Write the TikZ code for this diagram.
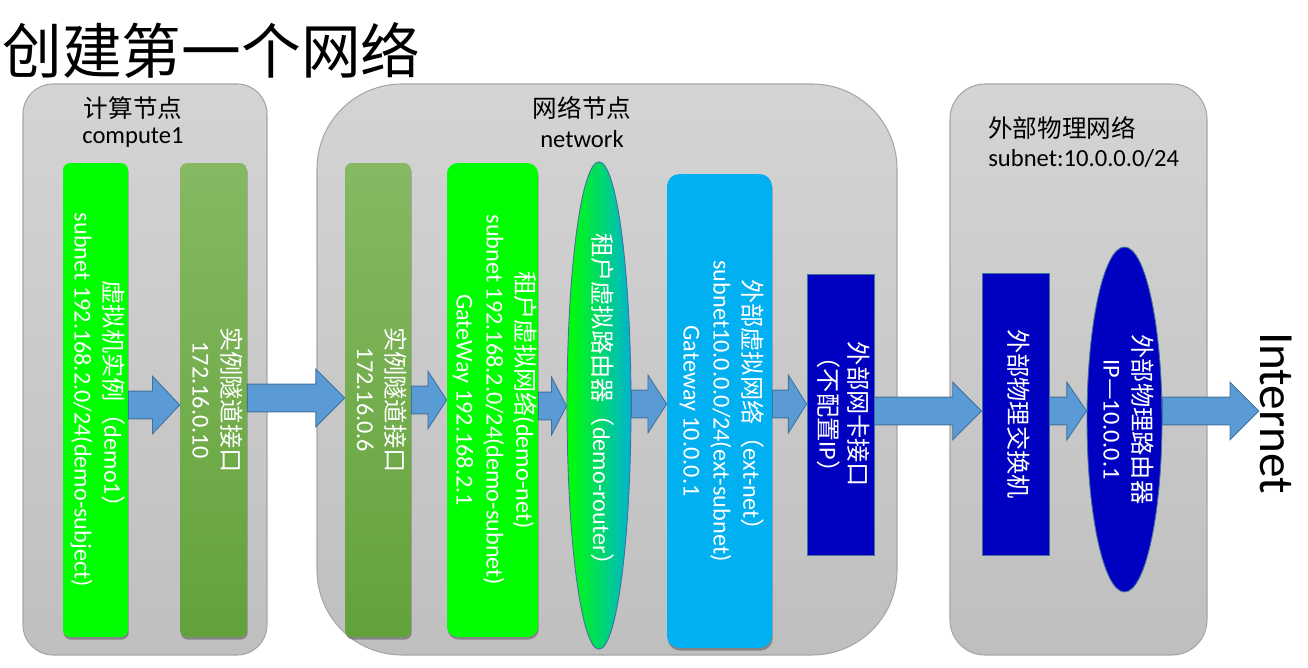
\documentclass[tikz,border=0pt]{standalone}
\usepackage{fontspec}
\setmainfont{Carlito}
\newfontfamily\cjk{Noto Sans CJK SC}
\usetikzlibrary{shapes.geometric,calc,shadows}
\definecolor{grouptop}{HTML}{D4D4D4}
\definecolor{groupbot}{HTML}{BFBFBF}
\definecolor{groupline}{HTML}{A6A6A6}
\definecolor{vmgreen}{HTML}{00FF00}
\definecolor{tuntop}{HTML}{86B962}
\definecolor{tunbot}{HTML}{62A23A}
\definecolor{routerright}{HTML}{00B4D2}
\definecolor{extcyan}{HTML}{00B0F0}
\definecolor{physblue}{HTML}{0000C0}
\definecolor{arrowfill}{HTML}{5B9BD5}
\definecolor{arrowline}{HTML}{41719C}

\newcommand{\zh}[1]{{\cjk #1}}
\newcommand{\vtext}[1]{\makebox[0pt]{\rotatebox{-90}{\begin{tabular}{@{}c@{}}#1\end{tabular}}}}

\tikzset{
  groupbox/.style={draw=groupline,line width=0.6pt,top color=grouptop,bottom color=groupbot},
  grouplabel/.style={inner sep=0pt,font=\fontsize{14}{17}\selectfont},
  inbox/.style={inner sep=0pt,text=white,font=\fontsize{13.8}{17}\selectfont},
  softshadow/.style={drop shadow={shadow xshift=0.4pt,shadow yshift=-1.5pt,opacity=0.3,fill=black}},
  vmbox/.style={inbox,softshadow,fill=vmgreen,rounded corners=4pt},
  tunbox/.style={inbox,softshadow,top color=tuntop,bottom color=tunbot,rounded corners=4pt},
  routerell/.style={inbox,ellipse,draw=arrowline,line width=0.5pt,left color=vmgreen,right color=routerright},
  extbox/.style={inbox,softshadow,fill=extcyan,rounded corners=7pt},
  physbox/.style={inbox,draw=arrowline,line width=0.5pt,fill=physblue},
  physell/.style={inbox,ellipse,draw=arrowline,line width=0.5pt,fill=physblue},
  blockarrow/.style={fill=arrowfill,draw=arrowline,line width=0.5pt,line join=miter}
}

% block arrow between two nodes at height #3
\newcommand{\blockarrow}[3]{%
  \draw[blockarrow] let \p1=(#1.east |- 0,#3), \p2=(#2 |- 0,#3),
      \n1={min(16.4pt,0.53*(\x2-\x1))} in
    (\x1,\y1+7.9pt) -- (\x2-\n1,\y1+7.9pt) -- (\x2-\n1,\y1+16.4pt) -- (\x2,\y1)
    -- (\x2-\n1,\y1-16.4pt) -- (\x2-\n1,\y1-7.9pt) -- (\x1,\y1-7.9pt) -- cycle;}

\begin{document}
\begin{tikzpicture}[x=0.02cm,y=-0.02cm]
\useasboundingbox (0,0) rectangle (1308,668);

% title
\node[anchor=west,inner sep=0pt,font=\cjk\fontsize{34}{40}\selectfont] (title) at (2,50) {创建第一个网络};

% groups
\draw[groupbox,rounded corners=0.6cm] (23,84) rectangle (267,655);
\draw[groupbox,rounded corners=1.7cm] (317,84) rectangle (897,655);
\draw[groupbox,rounded corners=0.7cm] (950,84) rectangle (1207,655);

\node[grouplabel] (computezh) at (133,108) {\zh{计算节点}};
\node[grouplabel] (computeen) at (133,138) {compute1};
\node[grouplabel] (networkzh) at (582,108) {\zh{网络节点}};
\node[grouplabel] (networken) at (582,139) {network};
\node[grouplabel,anchor=west] (physzh) at (988,128) {\zh{外部物理网络}};
\node[grouplabel,anchor=west] (physen) at (988,158) {subnet:10.0.0.0/24};

% compute node
\node[vmbox,minimum width=1.3cm,minimum height=9.48cm] (vm) at (95.5,400)
  {\vtext{\zh{虚拟机实例（}demo1\zh{）}\\subnet 192.168.2.0/24(demo-subject)}};
\node[tunbox,minimum width=1.34cm,minimum height=9.48cm] (tun1) at (213.5,400)
  {\vtext{\zh{实例隧道接口}\\172.16.0.10}};

% network node
\node[tunbox,minimum width=1.32cm,minimum height=9.48cm] (tun2) at (378,400)
  {\vtext{\zh{实例隧道接口}\\172.16.0.6}};
\node[vmbox,minimum width=1.82cm,minimum height=9.48cm,rounded corners=6pt] (tnet) at (492.5,400)
  {\vtext{\zh{租户虚拟网络}(demo-net)\\subnet 192.168.2.0/24(demo-subnet)\\GateWay 192.168.2.1}};
\node[routerell,minimum width=1.28cm,minimum height=9.7cm] (vrouter) at (599,405.5)
  {\vtext{\zh{租户虚拟路由器（}demo-router\zh{）}}};
\node[extbox,minimum width=2.1cm,minimum height=9.48cm] (extnet) at (719.5,411)
  {\vtext{\zh{外部虚拟网络（}ext-net\zh{）}\\subnet10.0.0.0/24(ext-subnet)\\Gateway 10.0.0.1}};
\node[physbox,minimum width=1.34cm,minimum height=5.62cm] (nic) at (840.5,414.5)
  {\vtext{\zh{外部网卡接口}\\\zh{（不配置}IP\zh{）}}};

% external network
\node[physbox,minimum width=1.34cm,minimum height=5.64cm] (switch) at (1015.5,414)
  {\vtext{\zh{外部物理交换机}}};
\node[physell,minimum width=1.5cm,minimum height=6.9cm] (prouter) at (1124.5,419.5)
  {\vtext{\zh{外部物理路由器}\\IP\zh{—}10.0.0.1}};
\node[rotate=-90,inner sep=0.5pt,font=\fontsize{28}{32}\selectfont] (inet) at (1276,413) {Internet};

% arrows
\blockarrow{vm}{tun1.west}{405}
\blockarrow{tun1}{tun2.west}{398}
\blockarrow{tun2}{tnet.west}{400}
\blockarrow{tnet}{vrouter.west}{406}
\blockarrow{vrouter}{extnet.west}{404}
\blockarrow{extnet}{nic.west}{404}
\blockarrow{nic}{switch.west}{411}
\blockarrow{switch}{prouter.west}{411}
\blockarrow{prouter}{inet.south}{411}
\end{tikzpicture}
\end{document}
